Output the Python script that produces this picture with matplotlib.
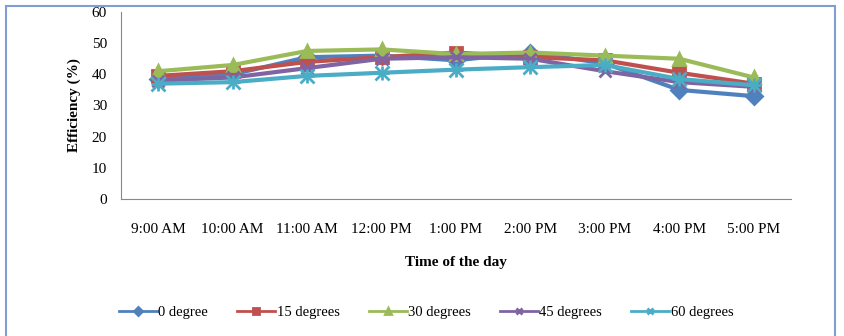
import matplotlib.pyplot as plt
from matplotlib.patches import Rectangle

times = ['9:00 AM', '10:00 AM', '11:00 AM', '12:00 PM', '1:00 PM',
         '2:00 PM', '3:00 PM', '4:00 PM', '5:00 PM']
deg0 = [38.5, 40.0, 45.5, 46.0, 44.5, 47.0, 43.5, 35.0, 33.0]
deg15 = [39.5, 41.0, 44.0, 45.5, 47.0, 45.5, 44.5, 40.5, 37.0]
deg30 = [41.0, 43.0, 47.5, 48.0, 46.5, 47.0, 46.0, 45.0, 39.0]
deg45 = [38.0, 39.0, 42.0, 45.0, 45.5, 45.0, 41.0, 37.5, 36.0]
deg60 = [37.0, 37.5, 39.5, 40.5, 41.5, 42.3, 43.0, 38.5, 36.5]

series = [
    ('0 degree', deg0, '#4F81BD', 'D'),
    ('15 degrees', deg15, '#C0504D', 's'),
    ('30 degrees', deg30, '#9BBB59', '^'),
    ('45 degrees', deg45, '#8064A2', 'x'),
    ('60 degrees', deg60, '#4BACC6', 'x'),
]

plt.rcParams['font.family'] = 'Liberation Serif'

fig = plt.figure(figsize=(8.44, 3.36), dpi=100)
ax = fig.add_axes([121 / 844, 1 - 199 / 336, 670 / 844, 187 / 336])

x = list(range(len(times)))
for name, vals, color, marker in series:
    if name == '60 degrees':
        ax.plot(x, vals, color=color, lw=3, marker='x', ms=10, mew=2, label=name)
        ax.plot(x, vals, color=color, lw=0, marker='+', ms=10, mew=2)
    else:
        ax.plot(x, vals, color=color, lw=3, marker=marker, ms=8, mew=2, label=name)

ax.set_xlim(-0.5, len(times) - 0.5)
ax.set_ylim(0, 60)
ax.set_yticks(range(0, 61, 10))
ax.set_xticks(x)
ax.set_xticklabels(times, fontsize=11)
ax.tick_params(axis='y', labelsize=11, length=0, pad=10)
ax.tick_params(axis='x', length=0, pad=17)
for s in ['top', 'right']:
    ax.spines[s].set_visible(False)
for s in ['left', 'bottom']:
    ax.spines[s].set_color('#888888')

ax.set_ylabel('Efficiency (%)', fontsize=11, fontweight='bold', labelpad=8)
ax.set_xlabel('Time of the day', fontsize=11, fontweight='bold', labelpad=15)

handles, labels = ax.get_legend_handles_labels()
leg = fig.legend(handles, labels, loc='center', bbox_to_anchor=(0.505, 1 - 312 / 336),
                 ncol=5, frameon=False, fontsize=10.5, handlelength=2.6,
                 columnspacing=2.0, handletextpad=0.1, markerscale=0.5)
for line in leg.get_lines():
    line.set_linewidth(2)

fig.patches.append(Rectangle((6 / 844, -0.05), 829 / 844, 1.04 - 3 / 336,
                             transform=fig.transFigure, fill=False,
                             edgecolor='#7F9FD0', lw=1.5))

plt.savefig('out.png', dpi=100)
